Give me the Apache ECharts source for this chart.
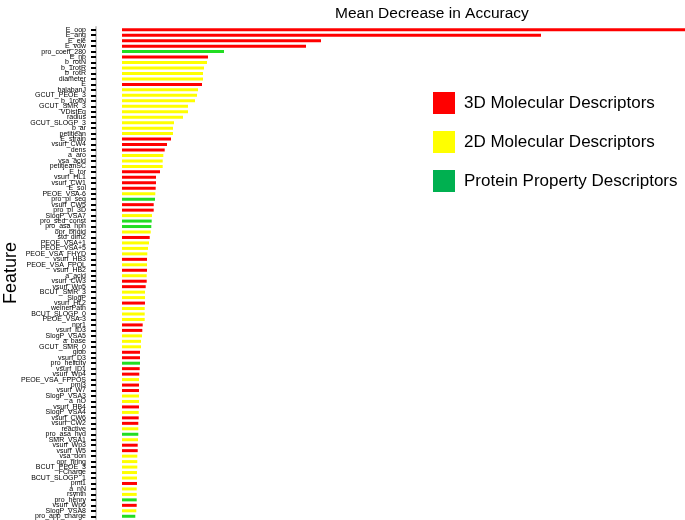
<!DOCTYPE html>
<html>
<head>
<meta charset="utf-8">
<script src="https://cdn.jsdelivr.net/npm/echarts@6/dist/echarts.min.js"></script>
<style>html,body{margin:0;padding:0;background:#fff}#c{width:685px;height:520px}</style>
</head>
<body>
<div id="c"></div>
<script>
const features = ["E_oop","E_ang","E_ele","E_vdw","pro_coeff_280","E_nb","b_rotN","b_1rotR","b_rotR","diameter",
"E","balabanJ","GCUT_PEOE_3","b_1rotN","GCUT_SMR_3","VDistEq","radius","GCUT_SLOGP_3","b_ar","petitjean",
"E_strain","vsurf_CW4","dens","a_aro","vsa_acid","petitjeanSC","E_tor","vsurf_HL1","vsurf_CW1","E_sol",
"PEOE_VSA-6","pro_pi_seq","vsurf_CW5","pro_pI_3D","SlogP_VSA7","pro_sed_const","pro_asa_hph","opr_brigid","std_dim2","PEOE_VSA+1",
"PEOE_VSA+5","PEOE_VSA_FHYD","vsurf_HB3","PEOE_VSA_FPOL","vsurf_HB2","a_acid","vsurf_CW3","vsurf_Wp5","BCUT_SMR_3","SlogP",
"vsurf_HL2","weinerPath","BCUT_SLOGP_0","PEOE_VSA-3","npr1","vsurf_ID3","SlogP_VSA5","a_base","GCUT_SMR_0","glob",
"vsurf_D3","pro_helicity","vsurf_ID1","vsurf_Wp4","PEOE_VSA_FPPOS","pmi3","vsurf_W7","SlogP_VSA3","a_nO","vsurf_HB4",
"SlogP_VSA4","vsurf_CW6","vsurf_CW2","reactive","pro_asa_hyd","SMR_VSA1","vsurf_Wp3","vsurf_W5","vsa_don","opr_nring",
"BCUT_PEOE_3","FCharge","BCUT_SLOGP_1","pmi1","a_nN","rsynth","pro_henry","vsurf_Wp6","SlogP_VSA8","pro_app_charge"];

const importance = [565,419,199,184,102,86,85,82,81,81,
80,76,75,73,66,66,61,52,51,51,
49,45,42.7,41.3,40.7,40.7,38,34,34,33.7,
33.3,33,31.7,31.7,30,29.7,29.3,28.7,27.7,27,
26,25.3,25,25,25,24.7,24.7,23.7,23,23,
23,22.7,22.7,22.7,20.7,20.3,20,19,19,18,
18,18,17.7,17.3,17,17,17,17,17,17,
16.7,16.7,16.3,16.3,16.3,16,15.7,15.7,15.3,15.3,
15.3,15,15,15,14.7,14.7,14.7,14.7,14.3,13.3];

// 'M3' = 3D, 'M2' = 2D, 'P' = protein
const groups = ["M3","M3","M3","M3","P","M3","M2","M2","M2","M2",
"M3","M2","M2","M2","M2","M2","M2","M2","M2","M2",
"M3","M3","M3","M2","M2","M2","M3","M3","M3","M3",
"M2","P","M3","M3","M2","P","P","M2","M3","M2",
"M2","M2","M3","M2","M3","M2","M3","M3","M2","M2",
"M3","M2","M2","M2","M3","M3","M2","M2","M2","M3",
"M3","P","M3","M3","M2","M3","M3","M2","M2","M3",
"M2","M3","M3","M2","P","M2","M3","M3","M2","M2",
"M2","M2","M2","M3","M2","M2","P","M3","M2","P"];

const seriesNames = ["3D Molecular Descriptors","2D Molecular Descriptors","Protein Property Descriptors"];
const seriesCodes = ["M3","M2","P"];
const barColors = ["#ff0000","#ffff00","#22dd22"];
const legendColors = ["#ff0000","#ffff00","#00b050"];

const chart = echarts.init(document.getElementById('c'));
const series = seriesCodes.map((code, i) => ({
  name: seriesNames[i],
  type: 'bar',
  barWidth: 3,
  barGap: '-100%',
  itemStyle: {color: barColors[i]},
  data: importance.map((v, j) => groups[j] === code ? v : '-'),
  animation: false
}));

chart.setOption({
  animation: false,
  title: {
    text: 'Mean Decrease in Accuracy',
    left: 330, top: 1,
    textStyle: {fontSize: 15.5, fontWeight: 'normal', color: '#000', fontFamily: 'Liberation Sans'}
  },
  legend: {
    data: seriesNames.map((n, i) => ({name: n, itemStyle: {color: legendColors[i]}})),
    orient: 'vertical',
    left: 428, top: 87,
    itemWidth: 22, itemHeight: 22,
    itemGap: 17,
    icon: 'rect',
    textStyle: {fontSize: 17, color: '#000', fontFamily: 'Liberation Sans', padding: [0, 0, 0, 4]}
  },
  grid: {left: 96, right: 0, top: 27, bottom: 1, containLabel: false, outerBoundsMode: 'none'},
  xAxis: {type: 'value', min: -26, max: 563, show: false},
  yAxis: {
    type: 'category',
    inverse: true,
    data: features,
    name: 'Feature',
    nameLocation: 'middle',
    nameRotate: 90,
    nameGap: 76,
    nameMoveOverlap: false,
    nameTextStyle: {fontSize: 18, color: '#000', fontFamily: 'Liberation Sans'},
    axisLine: {show: true, onZero: false, lineStyle: {color: '#c8c8c8', width: 2}},
    axisTick: {show: true, inside: false, alignWithLabel: true, length: 5, lineStyle: {color: '#000', width: 2}},
    axisLabel: {interval: 0, fontSize: 7, color: '#000', margin: 10, fontFamily: 'Liberation Sans'},
    splitLine: {show: false}
  },
  series: series
});
</script>
</body>
</html>
